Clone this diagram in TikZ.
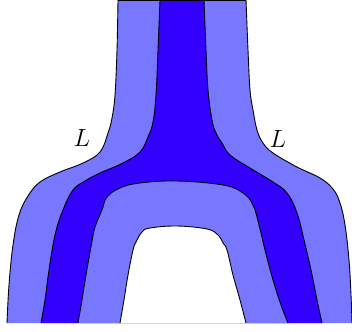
\documentclass[tikz,border=0pt]{standalone}
\begin{document}
\definecolor{lightb}{RGB}{119,119,255}
\definecolor{darkb}{RGB}{51,0,255}
\begin{tikzpicture}[x=1pt,y=-1pt,
  edge/.style={draw=black,line width=0.9pt},
  sm/.style={smooth,tension=0.65},
  lab/.style={inner sep=0pt,font=\fontsize{27}{30}\selectfont}]
\useasboundingbox (0,0) rectangle (352,331);
% outer light band
\fill[lightb] plot[sm] coordinates {(7,323) (9,285) (13,245) (19,215) (28,196) (40,182) (60,172) (83,163) (100,152) (108,133) (112,118) (115,95) (117,50) (118,0)}
  -- plot[sm] coordinates {(246,0) (248,50) (250,90) (253,110) (257,130) (263,143) (273,153) (297,167) (320,178) (333,189) (340,203) (345,225) (349,260) (351,295) (352,323)} -- cycle;
% dark band
\fill[darkb] plot[sm] coordinates {(41,323) (45,300) (49,270) (55,235) (63,210) (73,190) (85,181) (100,173) (123,163) (140,152) (148,137) (153,122) (156,95) (158,50) (160,0)}
  -- plot[sm] coordinates {(204,0) (206,50) (208,90) (212,120) (216,133) (222,143) (230,155) (250,168) (273,182) (287,193) (297,213) (304,240) (311,270) (317,300) (322,323)} -- cycle;
% inner light band
\fill[lightb] plot[sm] coordinates {(78,323) (82,300) (86,275) (91,247) (95,227) (102,210) (107,197) (120,188) (140,183) (177,181) (223,185) (243,193) (253,205) (259,225) (265,250) (273,280) (281,305) (288,323)} -- cycle;
% hole
\fill[white] plot[sm] coordinates {(120,323) (124,300) (128,275) (133,250) (136,242) (142,232) (150,228) (177,226) (207,229) (218,235) (223,243) (227,250) (233,275) (240,300) (246,323)} -- cycle;
% outlines
\draw[edge] plot[sm] coordinates {(7,323) (9,285) (13,245) (19,215) (28,196) (40,182) (60,172) (83,163) (100,152) (108,133) (112,118) (115,95) (117,50) (118,0)};
\draw[edge] plot[sm] coordinates {(246,0) (248,50) (250,90) (253,110) (257,130) (263,143) (273,153) (297,167) (320,178) (333,189) (340,203) (345,225) (349,260) (351,295) (352,323)};
\draw[edge] plot[sm] coordinates {(41,323) (45,300) (49,270) (55,235) (63,210) (73,190) (85,181) (100,173) (123,163) (140,152) (148,137) (153,122) (156,95) (158,50) (160,0)};
\draw[edge] plot[sm] coordinates {(204,0) (206,50) (208,90) (212,120) (216,133) (222,143) (230,155) (250,168) (273,182) (287,193) (297,213) (304,240) (311,270) (317,300) (322,323)};
\draw[edge] plot[sm] coordinates {(78,323) (82,300) (86,275) (91,247) (95,227) (102,210) (107,197) (120,188) (140,183) (177,181) (223,185) (243,193) (253,205) (259,225) (265,250) (273,280) (281,305) (288,323)};
\draw[edge] plot[sm] coordinates {(120,323) (124,300) (128,275) (133,250) (136,242) (142,232) (150,228) (177,226) (207,229) (218,235) (223,243) (227,250) (233,275) (240,300) (246,323)};
\draw[edge] (118,0.4) -- (246,0.4);
% labels
\node[lab] (labL) at (82,138) {$L$};
\node[lab] (labR) at (278,139) {$L$};
\end{tikzpicture}
\end{document}
